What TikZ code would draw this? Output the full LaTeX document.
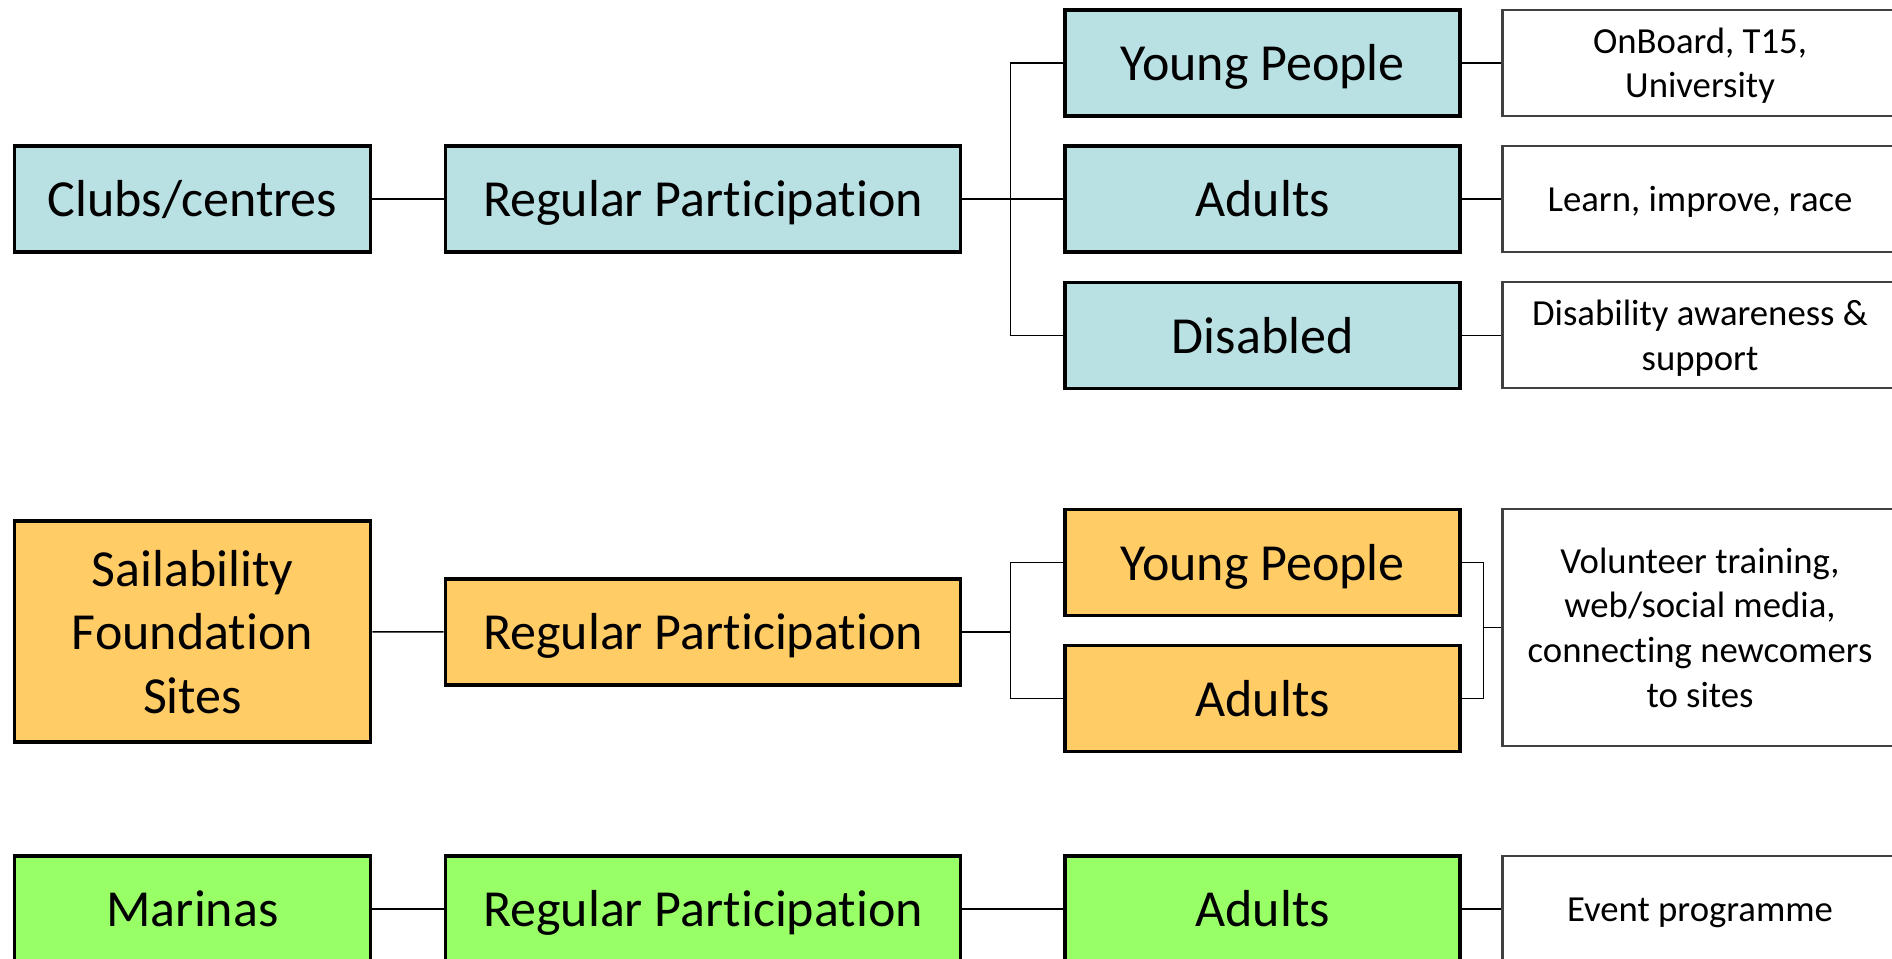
\documentclass[tikz,border=0pt]{standalone}
\usepackage{fontspec}
\setmainfont{Carlito}[Ligatures=NoCommon]
\definecolor{teal1}{RGB}{185,224,227}
\definecolor{gold1}{RGB}{255,204,102}
\definecolor{lime1}{RGB}{153,255,102}
\newcommand{\linestrut}{\rule[-0.269em]{0pt}{1.221em}}
\begin{document}
\begin{tikzpicture}[
	box/.style={draw,line width=1pt,inner sep=0pt,align=center,minimum height=1.06cm,font=\fontsize{14.8}{18.06}\selectfont,execute at begin node=\linestrut,execute at end node=\linestrut},
	bluebox/.style={box,fill=teal1},
	orangebox/.style={box,fill=gold1},
	greenbox/.style={box,fill=lime1},
	notebox/.style={draw=black!75,line width=0.6pt,fill=white,inner sep=0pt,align=center,minimum width=3.95cm,minimum height=1.06cm,font=\fontsize{10.45}{12.75}\selectfont,execute at begin node=\linestrut,execute at end node=\linestrut},
	multi/.style={text depth=-0.9pt},
	link/.style={line width=0.45pt}]
						\useasboundingbox (0,0) rectangle (18.92,-9.59);
						\clip (0,0) rectangle (18.92,-9.59);
						% clubs / centres
						\node[bluebox,minimum width=3.56cm] (clubs) at (1.925,-1.991){Clubs/centres};
						\node[bluebox,minimum width=5.15cm] (rpA) at (7.029,-1.991){Regular Participation};
						\node[bluebox,minimum width=3.95cm] (ypA) at (12.627,-0.628){Young People};
						\node[bluebox,minimum width=3.95cm] (adA) at (12.627,-1.991){Adults};
						\node[bluebox,minimum width=3.95cm] (disA) at (12.627,-3.354){Disabled};
						\node[notebox,multi] (nYpA) at (17.0,-0.628){OnBoard, T15,\\University};
						\node[notebox] (nAdA) at (17.0,-1.991){Learn, improve, race};
						\node[notebox,multi] (nDisA) at (17.0,-3.354){Disability awareness \&\\support};
						
						\draw[link] (clubs) -- (rpA);
						\draw[link] (rpA) -- (adA);
						\draw[link] (ypA.west) -- ++(-0.531,0) |- (disA.west);
						\draw[link] (ypA) -- (nYpA);
						\draw[link] (adA) -- (nAdA);
						\draw[link] (disA) -- (nDisA);
						
						% sailability
						\node[orangebox,multi,minimum width=3.56cm,minimum height=2.21cm] (sail) at (1.925,-6.317){Sailability\\Foundation\\Sites};
						\node[orangebox,minimum width=5.15cm] (rpB) at (7.029,-6.32){Regular Participation};
						\node[orangebox,minimum width=3.95cm] (ypB) at (12.627,-5.623){Young People};
						\node[orangebox,minimum width=3.95cm] (adB) at (12.627,-6.986){Adults};
						\node[notebox,multi,minimum height=2.365cm] (nB) at (17.0,-6.275){Volunteer training,\\web/social media,\\connecting newcomers\\to sites};
						
						\draw[link] (sail) -- (rpB);
						\draw[link] (ypB.west) -- ++(-0.531,0) coordinate (jB) |- (adB.west);
						\draw[link] (rpB.east) -- (rpB.east -| jB);
						\draw[link] (ypB.east) -- ++(0.217,0) coordinate (kB) |- (adB.east);
						\draw[link] (nB.west) -- (nB.west -| kB);
						
						% marinas
						\node[greenbox,minimum width=3.56cm] (mar) at (1.925,-9.09){Marinas};
						\node[greenbox,minimum width=5.15cm] (rpC) at (7.029,-9.09){Regular Participation};
						\node[greenbox,minimum width=3.95cm] (adC) at (12.627,-9.09){Adults};
						\node[notebox] (nAdC) at (17.0,-9.09){Event programme};
						
						\draw[link] (mar) -- (rpC);
						\draw[link] (rpC) -- (adC);
						\draw[link] (adC) -- (nAdC);
					\end{tikzpicture}
\end{document}
